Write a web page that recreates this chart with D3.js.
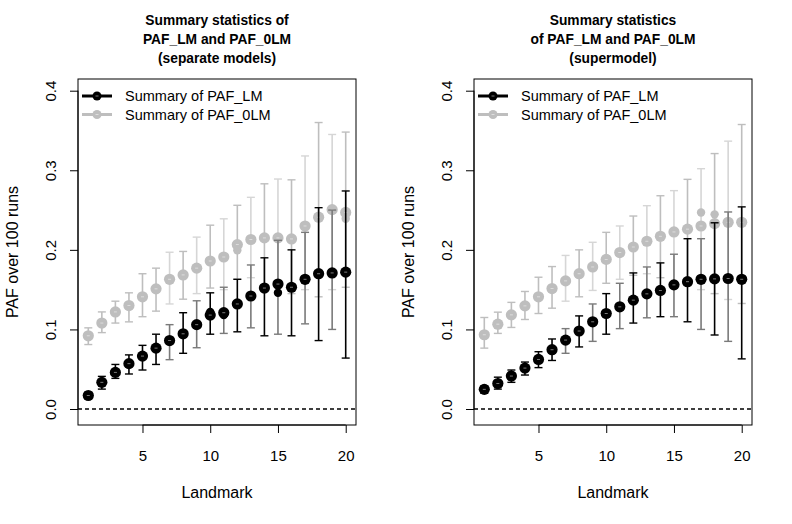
<!DOCTYPE html>
<html>
<head>
<meta charset="utf-8">
<script src="https://d3js.org/d3.v7.min.js"></script>
<style>
  body { margin: 0; background: #fff; }
  svg { font-family: "Liberation Sans", Arial, sans-serif; }
  .title { font-weight: bold; font-size: 13.8px; }
  .tick-label { font-size: 15px; }
  .axis-title { font-size: 16px; }
  .legend-text { font-size: 14.5px; }
</style>
</head>
<body>
<svg width="792" height="524"></svg>
<script>
// Landmarks on the x axis
const landmark = d3.range(1, 21);
const xTicks = [5, 10, 15, 20];
const yTicks = [0, 0.1, 0.2, 0.3, 0.4];
const legendLabels = ["Summary of PAF_LM", "Summary of PAF_0LM"];

// Left panel: separate models
const sepLM_mean = [0.017,0.0335,0.046,0.057,0.0665,0.0765,0.086,0.0945,0.106,0.118,0.121,0.132,0.142,0.152,0.157,0.153,0.163,0.170,0.171,0.172];
const sepLM_lo   = [0.013,0.025,0.0385,0.044,0.049,0.056,0.062,0.070,0.077,0.094,0.095,0.097,0.102,0.092,0.094,0.092,0.107,0.086,0.100,0.064];
const sepLM_hi   = [0.021,0.041,0.056,0.068,0.080,0.094,0.106,0.121,0.136,0.146,0.153,0.163,0.181,0.190,0.212,0.200,0.222,0.253,0.250,0.274];
const sepLM_med  = [null,null,null,null,null,null,null,null,null,0.122,0.118,null,null,null,0.146,null,null,null,null,null];
const sep0LM_mean = [0.092,0.108,0.122,0.130,0.141,0.151,0.163,0.1685,0.177,0.186,0.191,0.2066,0.213,0.215,0.215,0.2137,0.230,0.241,0.2505,0.247];
const sep0LM_lo   = [0.081,0.096,0.108,0.1095,0.116,0.123,0.132,0.138,0.145,0.152,0.150,0.163,0.165,0.150,0.145,0.145,0.150,0.141,0.150,0.153];
const sep0LM_hi   = [0.102,0.122,0.1355,0.146,0.170,0.177,0.197,0.198,0.216,0.231,0.239,0.256,0.266,0.283,0.289,0.288,0.318,0.360,0.345,0.348];
const sep0LM_med  = [null,null,null,null,null,null,null,null,null,null,null,0.1995,null,null,null,null,null,null,null,0.239];

// Right panel: supermodel
const supLM_mean = [0.0247,0.032,0.0414,0.0514,0.0623,0.0745,0.0866,0.098,0.1096,0.120,0.1284,0.1368,0.1447,0.149,0.156,0.160,0.163,0.1635,0.164,0.163];
const supLM_lo   = [0.020,0.025,0.0335,0.0427,0.052,0.061,0.070,0.078,0.085,0.094,0.101,0.108,0.1146,0.116,0.116,0.1096,0.100,0.093,0.085,0.063];
const supLM_hi   = [0.029,0.040,0.049,0.059,0.072,0.088,0.101,0.117,0.132,0.145,0.158,0.171,0.1785,0.1836,0.1945,0.214,0.214,0.234,0.2476,0.254];
const supLM_med  = [null,null,null,null,null,null,null,null,null,null,null,null,null,null,null,null,null,null,null,null];
const sup0LM_mean = [0.0933,0.1066,0.1183,0.1296,0.141,0.1514,0.161,0.170,0.1785,0.188,0.1966,0.2036,0.2108,0.217,0.2225,0.226,0.230,0.233,0.2346,0.2346];
const sup0LM_lo   = [0.0765,0.095,0.1025,0.1125,0.120,0.1267,0.1355,0.141,0.149,0.158,0.163,0.168,0.170,0.165,0.160,0.155,0.150,0.145,0.1376,0.1326];
const sup0LM_hi   = [0.115,0.1217,0.134,0.1477,0.1656,0.179,0.193,0.200,0.2095,0.222,0.230,0.2425,0.2555,0.268,0.2744,0.2886,0.302,0.321,0.3366,0.3575];
const sup0LM_med  = [null,null,null,null,null,null,null,null,null,null,null,null,null,null,null,null,0.247,0.2446,null,null];

const svg = d3.select("svg");

function series(mean, lo, hi, med) {
    return landmark.map((x, i) => ({ x, mean: mean[i], lo: lo[i], hi: hi[i], med: med[i] }));
}

function drawPanel(left, titleLines, lm, olm) {
    const x = d3.scaleLinear().domain([0.24, 20.76]).range([left, left + 278]);
    const y = d3.scaleLinear().domain([-0.0201, 0.4147]).range([425, 79]);
    const g = svg.append("g");

    // title
    titleLines.forEach((t, i) => {
        g.append("text").attr("class", "title")
            .attr("x", left + 139).attr("y", 25 + i * 19)
            .attr("text-anchor", "middle").text(t);
    });

    // zero line
    g.append("line")
        .attr("x1", x.range()[0]).attr("x2", x.range()[1])
        .attr("y1", y(0)).attr("y2", y(0))
        .attr("stroke", "#000").attr("stroke-dasharray", "4,3").attr("stroke-width", 1.4);

    // series: grey first, black on top
    const sets = [
        { data: olm, dot: "#bebebe", bars: ["#bebebe", "#d6d6d6"] },
        { data: lm, dot: "#000", bars: ["#000", "#7a7a7a"] }
    ];
    sets.forEach(s => {
        const sg = g.append("g");
        sg.selectAll("line.bar").data(s.data).enter().append("line")
            .attr("x1", d => x(d.x)).attr("x2", d => x(d.x))
            .attr("y1", d => y(d.lo)).attr("y2", d => y(d.hi))
            .attr("stroke", (d, i) => (i >= 6 && i % 2 === 0) ? s.bars[1] : s.bars[0])
            .attr("stroke-width", 1.6);
        ["lo", "hi"].forEach(k => {
            sg.selectAll("line.cap-" + k).data(s.data).enter().append("line")
                .attr("x1", d => x(d.x) - 4).attr("x2", d => x(d.x) + 4)
                .attr("y1", d => y(d[k])).attr("y2", d => y(d[k]))
                .attr("stroke", (d, i) => (i >= 6 && i % 2 === 0) ? s.bars[1] : s.bars[0])
                .attr("stroke-width", 1.4);
        });
        sg.selectAll("circle.med").data(s.data.filter(d => d.med != null)).enter().append("circle")
            .attr("cx", d => x(d.x)).attr("cy", d => y(d.med)).attr("r", 4.2)
            .attr("fill", s.dot);
        sg.selectAll("circle.mean").data(s.data).enter().append("circle")
            .attr("cx", d => x(d.x)).attr("cy", d => y(d.mean)).attr("r", 5.6)
            .attr("fill", s.dot);
        // small white mark inside each dot
        sg.selectAll("line.mark").data(s.data).enter().append("line")
            .attr("x1", d => x(d.x) - 1.5).attr("x2", d => x(d.x) + 1.5)
            .attr("y1", d => y(d.mean)).attr("y2", d => y(d.mean))
            .attr("stroke", "#fff").attr("stroke-width", 0.8).attr("opacity", 0.6);
    });

    // box
    g.append("rect")
        .attr("x", x.range()[0]).attr("y", 79)
        .attr("width", 278).attr("height", 346)
        .attr("fill", "none").attr("stroke", "#000").attr("stroke-width", 1);

    // x axis
    const xa = g.append("g").attr("transform", `translate(0,425)`)
        .call(d3.axisBottom(x).tickValues(xTicks).tickSize(8).tickFormat(d3.format("d")));
    xa.select(".domain").attr("d", `M${x(5)},0H${x(20)}`);
    xa.selectAll("text").attr("class", "tick-label").attr("dy", 0).attr("y", 36).attr("font-size", null).attr("font-family", null);

    // y axis
    const ya = g.append("g").attr("transform", `translate(${x.range()[0]},0)`)
        .call(d3.axisLeft(y).tickValues(yTicks).tickSize(8).tickFormat(d3.format(".1f")));
    ya.select(".domain").attr("d", `M0,${y(0)}V${y(0.4)}`);
    ya.selectAll("text").attr("class", "tick-label")
        .attr("font-size", null).attr("font-family", null)
        .attr("x", null).attr("dy", null)
        .attr("text-anchor", "middle")
        .attr("transform", "translate(-27,0) rotate(-90)")
        .attr("y", 0).attr("dy", "0.35em");

    // axis titles
    g.append("text").attr("class", "axis-title")
        .attr("x", left + 139).attr("y", 498).attr("text-anchor", "middle").text("Landmark");
    g.append("text").attr("class", "axis-title")
        .attr("transform", `translate(${left - 60},${252}) rotate(-90)`)
        .attr("text-anchor", "middle").text("PAF over 100 runs");

    // legend
    const lg = g.append("g");
    [{ c: "#000" }, { c: "#bebebe" }].forEach((l, i) => {
        const ly = 96 + i * 18.5;
        lg.append("line").attr("x1", left + 4).attr("x2", left + 34)
            .attr("y1", ly).attr("y2", ly).attr("stroke", l.c).attr("stroke-width", 3);
        lg.append("circle").attr("cx", left + 19).attr("cy", ly).attr("r", 4.5).attr("fill", l.c);
        lg.append("line").attr("x1", left + 17.5).attr("x2", left + 20.5)
            .attr("y1", ly).attr("y2", ly).attr("stroke", "#fff").attr("stroke-width", 0.8).attr("opacity", 0.6);
        lg.append("text").attr("class", "legend-text")
            .attr("x", left + 47).attr("y", ly + 5).text(legendLabels[i]);
    });
}

drawPanel(78, ["Summary statistics of", "PAF_LM and PAF_0LM", "(separate models)"],
    series(sepLM_mean, sepLM_lo, sepLM_hi, sepLM_med),
    series(sep0LM_mean, sep0LM_lo, sep0LM_hi, sep0LM_med));
drawPanel(474, ["Summary statistics", "of PAF_LM and PAF_0LM", "(supermodel)"],
    series(supLM_mean, supLM_lo, supLM_hi, supLM_med),
    series(sup0LM_mean, sup0LM_lo, sup0LM_hi, sup0LM_med));
</script>
</body>
</html>
